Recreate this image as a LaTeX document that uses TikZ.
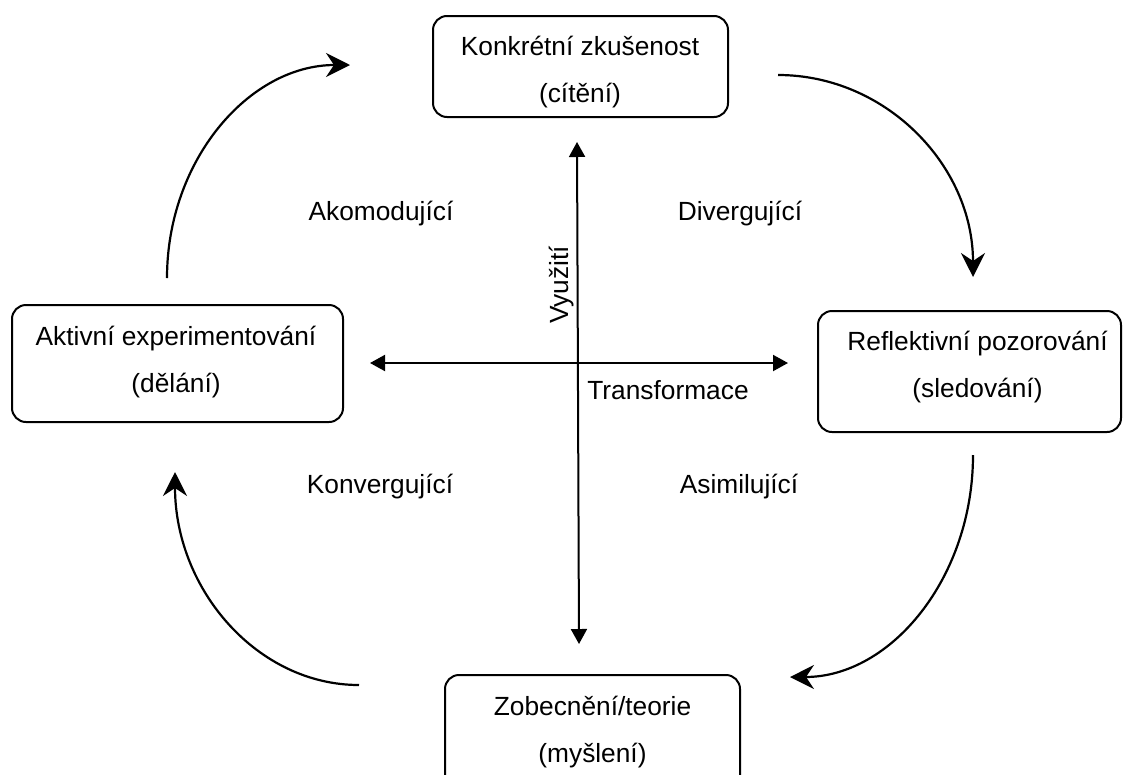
\documentclass[tikz,border=0pt]{standalone}
\usepackage{fontspec}
\setmainfont{Liberation Sans}
\usetikzlibrary{arrows.meta}
\begin{document}
\begin{tikzpicture}[x=1pt,y=-1pt,
  stage/.style={draw, line width=2pt, rounded corners=14pt, inner sep=0pt},
  lbl/.style={font=\fontsize{26.3}{30}\selectfont, anchor=base, inner sep=0pt},
  cycle/.style={line width=2.2pt, -{Stealth[length=24pt,width=24pt,inset=8pt]}},
  axis/.style={line width=2pt, {Triangle[length=15pt,width=16pt]}-{Triangle[length=15pt,width=16pt]}}]
\useasboundingbox (0,0) rectangle (1126,774);
\clip (0,0) rectangle (1126,774);

% the four stages of the cycle
\node[stage, minimum width=295pt, minimum height=101pt] (ce) at (580.5,66.5) {};
\node[lbl] (ce1) at (580,55) {Konkrétní zkušenost};
\node[lbl] (ce2) at (580,102) {(cítění)};

\node[stage, minimum width=303pt, minimum height=121pt] (ro) at (969.5,371.5) {};
\node[lbl] (ro1) at (977.5,350) {Reflektivní pozorování};
\node[lbl] (ro2) at (977.5,397) {(sledování)};

\node[stage, minimum width=295pt, minimum height=115pt] (ac) at (592.5,732.5) {};
\node[lbl] (ac1) at (592.5,715) {Zobecnění/teorie};
\node[lbl] (ac2) at (592.5,762) {(myšlení)};

\node[stage, minimum width=331pt, minimum height=117pt] (ae) at (177.5,363.5) {};
\node[lbl] (ae1) at (176,345) {Aktivní experimentování};
\node[lbl] (ae2) at (176,392) {(dělání)};

% ends of the cycle arrows
\coordinate (c1s) at (778,75);   \coordinate (c1e) at (973,277);
\coordinate (c2s) at (973,455);  \coordinate (c2e) at (790,677);
\coordinate (c3s) at (359,685);  \coordinate (c3e) at (175,472);
\coordinate (c4s) at (167,278);  \coordinate (c4e) at (350,65);

\draw[cycle] (c1s) .. controls (885.7,75) and (973,165.4) .. (c1e);
\draw[cycle] (c2s) .. controls (973,577.6) and (891,677) .. (c2e);
\draw[cycle] (c3s) .. controls (257.4,685) and (175,589.6) .. (c3e);
\draw[cycle] (c4s) .. controls (167,160.4) and (249,65) .. (c4e);

% the two axes
\coordinate (vt) at (577,142);  \coordinate (vb) at (579,644);
\coordinate (hl) at (370,363);  \coordinate (hr) at (788,363);
\draw[axis] (vt) -- (vb);
\draw[axis] (hl) -- (hr);

\node[lbl, rotate=90] (vy) at (568,285) {Využití};
\node[lbl] (tr) at (668,399) {Transformace};

% learning styles in the quadrants
\node[lbl] (akom) at (381,220) {Akomodující};
\node[lbl] (div) at (740,220) {Divergující};
\node[lbl] (konv) at (380,493) {Konvergující};
\node[lbl] (asim) at (739,493) {Asimilující};
\end{tikzpicture}
\end{document}
